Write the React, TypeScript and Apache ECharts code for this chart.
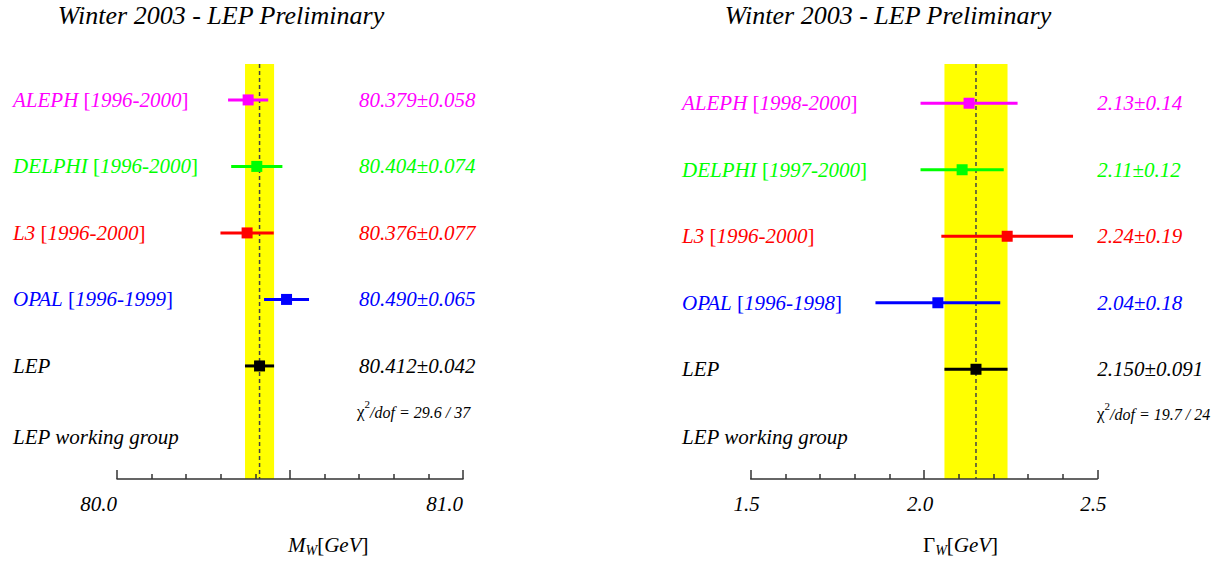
import React, { useEffect, useRef } from "react";
import * as echarts from "echarts";

// W mass and width measurements by experiment, LEP combination last
const experiments = ["ALEPH", "DELPHI", "L3", "OPAL", "LEP"];
const rowColors = ["#ff00ff", "#00ff00", "#ff0000", "#0000ff", "#000000"];

const massPeriods = ["1996-2000", "1996-2000", "1996-2000", "1996-1999", ""];
const massValues = [80.379, 80.404, 80.376, 80.49, 80.412];
const massErrors = [0.058, 0.074, 0.077, 0.065, 0.042];
const massDecimals = [3, 3, 3, 3, 3];
const massChi2 = "29.6 / 37";
const massTicks = [80.0, 81.0];

const widthPeriods = ["1998-2000", "1997-2000", "1996-2000", "1996-1998", ""];
const widthValues = [2.13, 2.11, 2.24, 2.04, 2.15];
const widthErrors = [0.14, 0.12, 0.19, 0.18, 0.091];
const widthDecimals = [2, 2, 2, 2, 3];
const widthChi2 = "19.7 / 24";
const widthTicks = [1.5, 2.0, 2.5];

const FONT = "Liberation Serif, DejaVu Serif, serif";
const TEXT_SIZE = 21;

const italic = (size: number, fill: string) => ({
  fontFamily: FONT,
  fontStyle: "italic",
  fontSize: size,
  fill,
});
const upright = (size: number, fill: string) => ({
  fontFamily: FONT,
  fontStyle: "normal",
  fontSize: size,
  fill,
});

function nameText(name: string, period: string) {
  if (!period) return `{i|${name}}`;
  return `{i|${name} }{n|[}{i|${period}}{n|]}`;
}

function valueText(v: number, e: number, d: number) {
  return `{i|${v.toFixed(d)}}{n|±}{i|${e.toFixed(d)}}`;
}

type Panel = {
  gridIndex: number;
  values: number[];
  errors: number[];
  periods: string[];
  decimals: number[];
  nameOffset: number; // from grid left
  valueOffset: number; // from grid left
};

function rowsSeries(p: Panel) {
  const data = p.values.map((v, i) => [v, p.errors[i], 5 - i]);
  return {
    type: "custom",
    xAxisIndex: p.gridIndex,
    yAxisIndex: p.gridIndex,
    z: 3,
    clip: false,
    data,
    renderItem: (params: any, api: any) => {
      const i = params.dataIndex;
      const v = api.value(0);
      const e = api.value(1);
      const row = api.value(2);
      const [xl, y] = api.coord([v - e, row]);
      const [xr] = api.coord([v + e, row]);
      const [xc] = api.coord([v, row]);
      const cs = params.coordSys;
      const color = rowColors[i];
      const rich = { i: italic(TEXT_SIZE, color), n: upright(TEXT_SIZE, color) };
      return {
        type: "group",
        children: [
          {
            type: "line",
            shape: { x1: xl, y1: y, x2: xr, y2: y },
            style: { stroke: color, lineWidth: 3 },
          },
          {
            type: "rect",
            shape: { x: xc - 5.5, y: y - 5.5, width: 11, height: 11 },
            style: { fill: color },
          },
          {
            type: "text",
            x: cs.x + p.nameOffset,
            y,
            style: {
              text: nameText(experiments[i], p.periods[i]),
              verticalAlign: "middle",
              align: "left",
              rich,
            },
          },
          {
            type: "text",
            x: cs.x + p.valueOffset,
            y,
            style: {
              text: valueText(v, e, p.decimals[i]),
              verticalAlign: "middle",
              align: "left",
              rich,
            },
          },
        ],
      };
    },
  };
}

// Yellow band and dashed centre line of the combined result
function bandSeries(gridIndex: number, centre: number, err: number) {
  return {
    type: "custom",
    xAxisIndex: gridIndex,
    yAxisIndex: gridIndex,
    z: 1,
    clip: false,
    data: [[centre, err]],
    renderItem: (params: any, api: any) => {
      const c = api.value(0);
      const e = api.value(1);
      const cs = params.coordSys;
      const [xl] = api.coord([c - e, 0]);
      const [xr] = api.coord([c + e, 0]);
      const [xc] = api.coord([c, 0]);
      return {
        type: "group",
        children: [
          {
            type: "rect",
            shape: { x: xl, y: cs.y, width: xr - xl, height: cs.height },
            style: { fill: "#ffff00" },
          },
          {
            type: "line",
            shape: { x1: xc, y1: cs.y, x2: xc, y2: cs.y + cs.height },
            style: { stroke: "#444", lineWidth: 1.5, lineDash: [4, 3] },
          },
        ],
      };
    },
  };
}

function xAxis(gridIndex: number, min: number, max: number, ticks: number[], align: string) {
  const line = { color: "#333", width: 1.5 };
  return {
    type: "value",
    gridIndex,
    min,
    max,
    interval: (max - min) / 2,
    z: 4,
    axisLine: { show: true, onZero: false, lineStyle: line },
    axisTick: { show: true, inside: true, length: 9, lineStyle: line },
    minorTick: { show: true, splitNumber: 5, length: 5, lineStyle: line },
    splitLine: { show: false },
    minorSplitLine: { show: false },
    axisLabel: {
      fontFamily: FONT,
      fontStyle: "italic",
      fontSize: 21,
      color: "#000",
      margin: 14,
      align,
      padding: align === "center" ? [0, 8, 0, 0] : 0,
      formatter: (v: number) =>
        ticks.some((t) => Math.abs(t - v) < 1e-6) ? v.toFixed(1) : "",
    },
  };
}

function chi2Text(x: number, y: number, ratio: string) {
  return {
    type: "text",
    left: x,
    top: y - 11,
    style: {
      text: `{c|χ}{s|2}{t|/dof = ${ratio}}`,
      rich: {
        c: { ...upright(17, "#000"), lineHeight: 22, verticalAlign: "bottom" },
        s: { ...upright(11, "#000"), lineHeight: 19, verticalAlign: "top" },
        t: { ...italic(16, "#000"), lineHeight: 22, verticalAlign: "bottom" },
      },
    },
  };
}

function axisTitle(x: number, y: number, sym: string, symItalic: boolean) {
  return {
    type: "text",
    left: x,
    top: y - 13,
    style: {
      text: `{m|${sym}}{s|W}{n|[}{i|GeV}{n|]}`,
      rich: {
        m: { ...(symItalic ? italic(21, "#000") : upright(21, "#000")), lineHeight: 26 },
        s: { ...italic(14, "#000"), lineHeight: 14, verticalAlign: "bottom" },
        n: { ...upright(21, "#000"), lineHeight: 26 },
        i: { ...italic(21, "#000"), lineHeight: 26 },
      },
    },
  };
}

function headerText(cx: number, text: string) {
  return {
    type: "text",
    x: cx,
    y: 15,
    style: {
      text,
      ...italic(26, "#000"),
      align: "center",
      verticalAlign: "middle",
    },
  };
}

function labelText(x: number, y: number, text: string) {
  return {
    type: "text",
    x,
    y,
    style: { text, ...italic(TEXT_SIZE, "#000"), align: "left", verticalAlign: "middle" },
  };
}

export default function App() {
  const ref = useRef<HTMLDivElement>(null);

  useEffect(() => {
    if (!ref.current) return;
    const chart = echarts.init(ref.current, null, { renderer: "svg" });
    const last = experiments.length - 1;

    chart.setOption({
      animation: false,
      backgroundColor: "#ffffff",
      grid: [
        { left: 117, top: 64, width: 346, height: 415 },
        { left: 750.7, top: 64, width: 346.6, height: 415 },
      ],
      xAxis: [
        xAxis(0, 80.0, 81.0, massTicks, "right"),
        xAxis(1, 1.5, 2.5, widthTicks, "center"),
      ],
      yAxis: [
        { type: "value", gridIndex: 0, min: -0.7, max: 5.54, show: false },
        { type: "value", gridIndex: 1, min: -0.65, max: 5.59, show: false },
      ],
      series: [
        bandSeries(0, massValues[last], massErrors[last]),
        bandSeries(1, widthValues[last], widthErrors[last]),
        rowsSeries({
          gridIndex: 0,
          values: massValues,
          errors: massErrors,
          periods: massPeriods,
          decimals: massDecimals,
          nameOffset: -104,
          valueOffset: 242,
        }),
        rowsSeries({
          gridIndex: 1,
          values: widthValues,
          errors: widthErrors,
          periods: widthPeriods,
          decimals: widthDecimals,
          nameOffset: -68.7,
          valueOffset: 346.6,
        }),
      ],
      graphic: [
        headerText(221, "Winter 2003 - LEP Preliminary"),
        headerText(888, "Winter 2003 - LEP Preliminary"),
        labelText(13, 437, "LEP working group"),
        labelText(682, 437, "LEP working group"),
        chi2Text(357, 409, massChi2),
        chi2Text(1097, 411, widthChi2),
        axisTitle(288, 547, "M", true),
        axisTitle(923, 547, "Γ", false),
      ],
    });

    return () => chart.dispose();
  }, []);

  return (
    <div
      ref={ref}
      style={{ position: "fixed", left: 0, top: 0, width: 1227, height: 566 }}
    />
  );
}
